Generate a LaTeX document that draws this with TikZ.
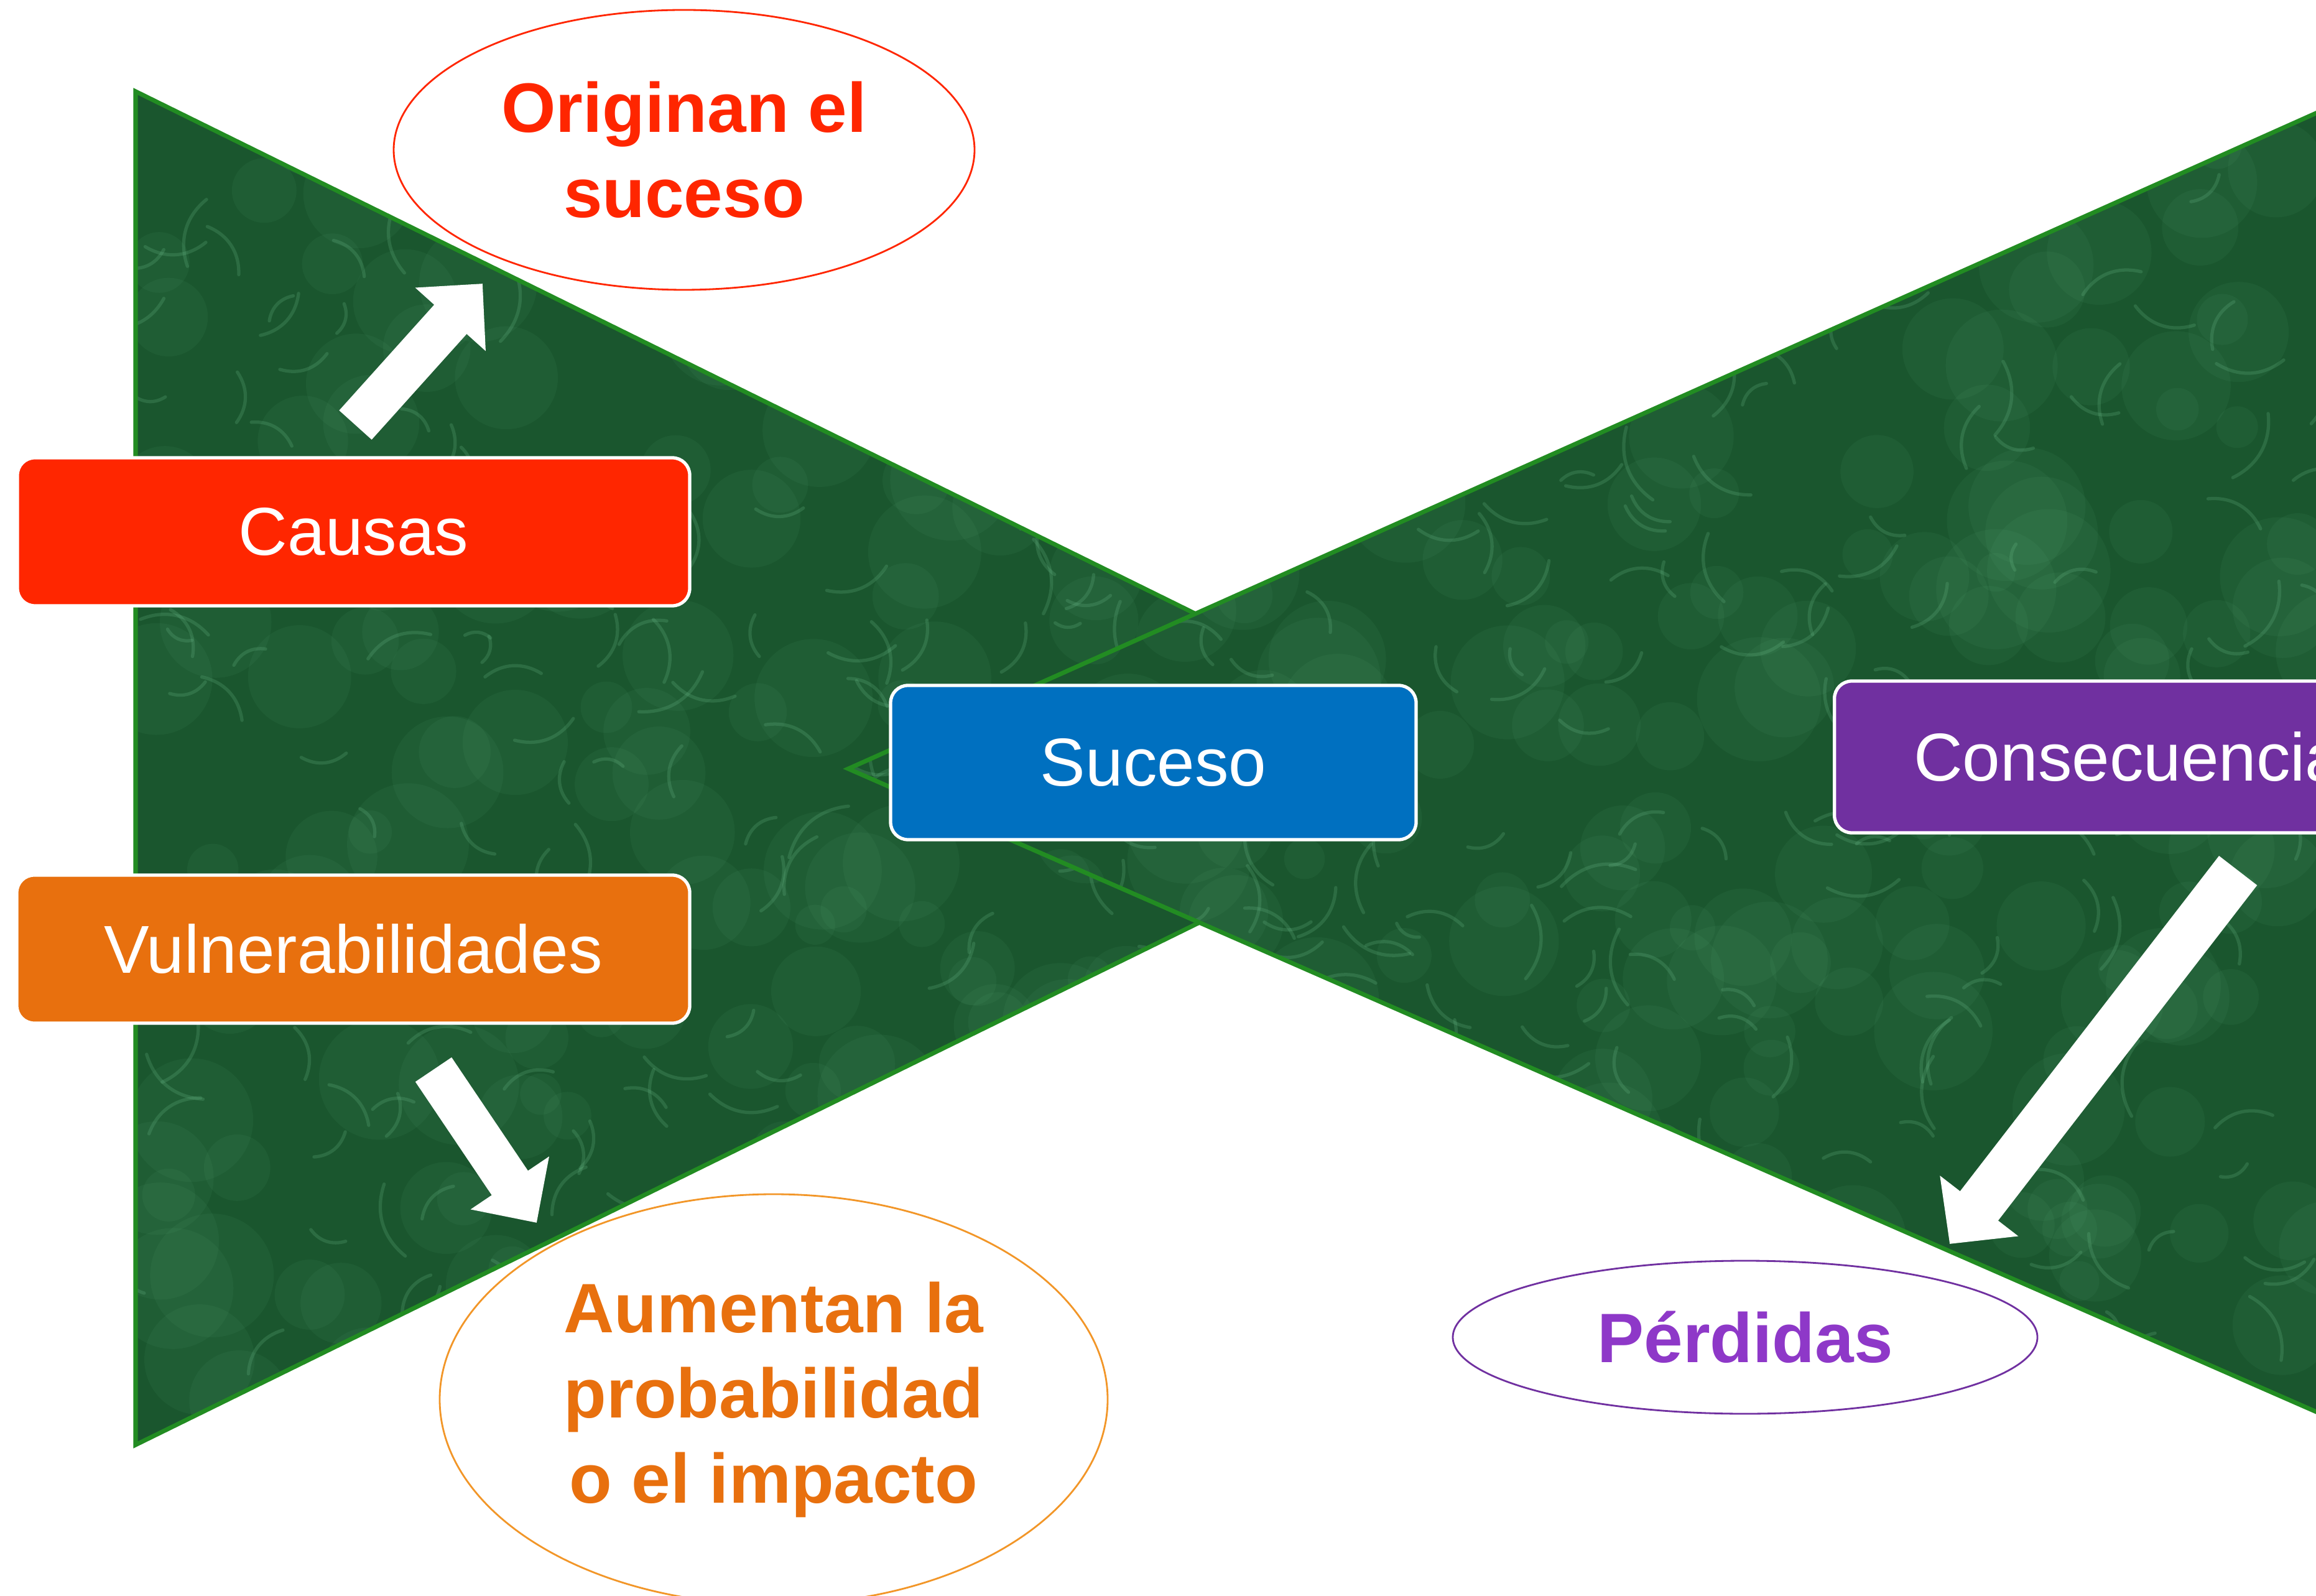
\documentclass[tikz,border=0pt]{standalone}
\usepackage{fontspec}
\setmainfont{Liberation Sans}
\usetikzlibrary{arrows.meta,shapes.geometric,positioning}
\definecolor{rojo}{RGB}{255,38,0}
\definecolor{naranja}{RGB}{232,112,14}
\definecolor{naranjaclaro}{RGB}{242,150,40}
\definecolor{azul}{RGB}{0,112,192}
\definecolor{morado}{RGB}{112,48,160}
\definecolor{lila}{RGB}{142,56,200}
\definecolor{verde}{RGB}{26,86,46}
\definecolor{borde}{RGB}{34,140,34}
\definecolor{vena}{RGB}{110,190,140}

\begin{document}
\begin{tikzpicture}[thick,
  caja/.style={draw=white,line width=1.5pt,rounded corners=0.28cm,text=white,minimum height=2.38cm,font=\fontsize{31}{37}\selectfont},
  globo/.style={ellipse,draw,fill=white,line width=0.8pt,inner sep=0pt,align=center,font=\bfseries\fontsize{32}{39}\selectfont},
  flecha/.style={white,line width=20pt,-{Triangle[width=42pt,length=22pt]}},
  venas/.style={vena,opacity=0.22,line width=1.5pt,line cap=round},
  manchas/.style={vena,opacity=0.07}]
\clip (0,0) rectangle (37.24,25.65);
\fill[white] (0,0) rectangle (37.24,25.65);
% lazo izquierdo
\fill[verde] (2.18,24.18) -- (2.18,2.42) -- (24.30,13.28) -- cycle;
\begin{scope}
\clip (2.18,24.18) -- (2.18,2.42) -- (24.30,13.28) -- cycle;
\pgfmathsetseed{3}
\foreach \k in {1,...,220}
  \fill[manchas] ({2.2+22*rnd},{2.4+21.8*rnd}) circle ({0.3+0.7*rnd});
\foreach \k in {1,...,260}
  \draw[venas] ({2.2+22*rnd},{2.4+21.8*rnd}) to[bend left=35] ++({360*rnd}:{0.4+0.9*rnd});
\end{scope}
\draw[borde,line width=2pt] (2.18,24.18) -- (2.18,2.42) -- (24.30,13.28) -- cycle;
% lazo derecho
\fill[verde] (13.64,13.29) -- (38,24.17) -- (38,2.62) -- cycle;
\begin{scope}
\clip (13.64,13.29) -- (38,24.17) -- (38,2.62) -- cycle;
\pgfmathsetseed{7}
\foreach \k in {1,...,260}
  \fill[manchas] ({13.6+24*rnd},{2.6+21.6*rnd}) circle ({0.3+0.7*rnd});
\foreach \k in {1,...,300}
  \draw[venas] ({13.6+24*rnd},{2.6+21.6*rnd}) to[bend left=35] ++({360*rnd}:{0.4+0.9*rnd});
\end{scope}
\draw[borde,line width=2pt] (13.64,13.29) -- (38,24.17) -- (38,2.62) -- cycle;

\node[caja,fill=rojo,minimum width=10.81cm] (causas) at (5.685,17.10) {Causas};
\node[caja,fill=naranja,minimum width=10.82cm] (vuln) at (5.68,10.39) {Vulnerabilidades};
\node[caja,fill=azul,minimum width=8.45cm,minimum height=2.48cm] (suceso) at (18.545,13.39) {Suceso};
\node[caja,fill=morado,minimum width=10cm,minimum height=2.44cm,anchor=west] (conse) at (29.47,13.48) {Consecuencias};

\node[globo,draw=rojo,text=rojo,minimum width=9.34cm,minimum height=4.5cm] (origina) at (11.00,23.24) {Originan el\\suceso};
\node[globo,draw=naranjaclaro,text=naranja,minimum width=10.74cm,minimum height=6.6cm] (aumentan) at (12.44,3.15) {Aumentan la\\probabilidad\\o el impacto};
\node[globo,draw=morado,text=lila,minimum width=9.4cm,minimum height=2.46cm] (perdidas) at (28.06,4.15) {Pérdidas};

\coordinate (fin1) at (7.76,21.09);
\coordinate (fin2) at (8.63,5.99);
\coordinate (fin3) at (31.35,5.65);
\draw[flecha] ([xshift=0.3mm,yshift=5mm]causas.north) -- (fin1);
\draw[flecha] ([xshift=12.9mm,yshift=-7.2mm]vuln.south) -- (fin2);
\draw[flecha,line width=22pt,-{Triangle[width=44pt,length=22pt]}] ([xshift=14.9mm,yshift=-5.8mm]conse.south) -- (fin3);
\end{tikzpicture}
\end{document}
